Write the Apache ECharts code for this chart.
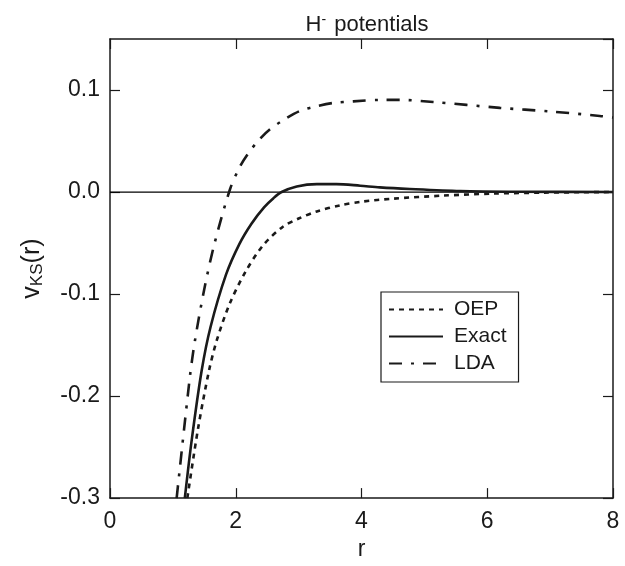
<!DOCTYPE html>
<html>
<head>
<meta charset="utf-8">
<script src="https://cdn.jsdelivr.net/npm/echarts@6/dist/echarts.min.js"></script>
<style>
html,body{margin:0;padding:0;background:#fff;}
#chart{width:625px;height:566px;}
</style>
</head>
<body>
<div id="chart"></div>
<script>
// tick values
const xTicks = [0, 2, 4, 6, 8];
const yTicks = [-0.3, -0.2, -0.1, 0.0, 0.1];

// OEP (dotted)
const oepX = [1.23, 1.40, 1.575, 1.70, 1.90, 2.147, 2.437, 2.75, 3.00, 3.29, 3.66, 4.00, 4.50, 5.30, 6.10, 6.90, 7.50, 8.00];
const oepY = [-0.300, -0.232, -0.175, -0.145, -0.110, -0.079, -0.052, -0.034, -0.026, -0.019, -0.013, -0.0095, -0.0065, -0.0035, -0.0015, -0.0006, -0.0002, 0.0];

// Exact (solid)
const exactX = [1.19, 1.30, 1.458, 1.60, 1.845, 2.057, 2.25, 2.45, 2.60, 2.73, 2.97, 3.29, 3.60, 3.98, 4.29, 4.77, 5.57, 6.50, 8.00];
const exactY = [-0.300, -0.243, -0.175, -0.132, -0.081, -0.051, -0.031, -0.015, -0.006, 0.0, 0.0055, 0.0078, 0.0078, 0.0062, 0.0046, 0.0030, 0.0010, 0.0003, 0.0];

// LDA (dash-dot)
const ldaX = [1.06, 1.27, 1.35, 1.50, 1.66, 1.91, 2.07, 2.20, 2.36, 2.545, 2.78, 3.02, 3.29, 3.55, 3.87, 4.30, 4.61, 5.14, 6.20, 7.00, 7.79, 8.00];
const ldaY = [-0.300, -0.1815, -0.146, -0.095, -0.051, 0.003, 0.0253, 0.038, 0.0505, 0.0615, 0.0714, 0.0794, 0.0841, 0.0873, 0.0889, 0.0903, 0.0903, 0.0883, 0.0825, 0.079, 0.0746, 0.073];

const zeroX = [0, 8];
const zeroY = [0, 0];

const pair = (xs, ys) => xs.map((x, i) => [x, ys[i]]);

const FONT = 'Liberation Sans, Arial, Helvetica, sans-serif';
const INK = '#1a1a1a';

const chart = echarts.init(document.getElementById('chart'), null, {renderer: 'canvas'});

const axisCommon = () => ({
  axisLine: {show: true, onZero: false, lineStyle: {color: INK, width: 1.5}},
  axisTick: {show: true, inside: true, length: 10, lineStyle: {color: INK, width: 1.2}},
  splitLine: {show: false}
});

chart.setOption({
  backgroundColor: '#fff',
  animation: false,
  title: {
    text: 'H{sup|-} potentials',
    left: 362,
    textAlign: 'center',
    top: 8,
    textStyle: {
      fontFamily: FONT, fontSize: 22, fontWeight: 'normal', color: INK,
      rich: {sup: {fontFamily: FONT, fontSize: 14, verticalAlign: 'top', padding: [0, 2, 10, 0], color: INK}}
    }
  },
  grid: {left: 110, right: 12, top: 39, bottom: 55, containLabel: false},
  legend: {
    orient: 'vertical',
    left: 381, top: 292,
    padding: [7, 12, 8, 7],
    itemWidth: 54, itemHeight: 14, itemGap: 6,
    borderColor: INK, borderWidth: 1.2,
    itemStyle: {opacity: 0},
    data: ['OEP', 'Exact', 'LDA'],
    textStyle: {fontFamily: FONT, fontSize: 21, color: INK, padding: [0, 0, 0, 6]}
  },
  xAxis: [
    Object.assign(axisCommon(), {
      type: 'value', min: 0, max: 8, interval: 2, position: 'bottom',
      name: 'r', nameLocation: 'middle', nameGap: 38,
      nameTextStyle: {fontFamily: FONT, fontSize: 23, color: INK},
      axisLabel: {fontFamily: FONT, fontSize: 23, color: INK, margin: 12,
        formatter: v => xTicks.includes(v) ? String(v) : ''}
    }),
    Object.assign(axisCommon(), {
      type: 'value', min: 0, max: 8, interval: 2, position: 'top',
      axisLabel: {show: false}
    })
  ],
  yAxis: [
    Object.assign(axisCommon(), {
      type: 'value', min: -0.3, max: 0.15, interval: 0.1, position: 'left',
      name: 'v{sub|KS}(r)', nameLocation: 'middle', nameGap: 64,
      nameTextStyle: {fontFamily: FONT, fontSize: 25, color: INK,
        rich: {sub: {fontFamily: FONT, fontSize: 17, color: INK, verticalAlign: 'bottom', padding: [10, 0, 0, 0]}}},
      axisLabel: {fontFamily: FONT, fontSize: 23, color: INK, margin: 10, showMaxLabel: false,
        formatter: v => {
          const r = Math.round(v * 10) / 10;
          return yTicks.some(t => Math.abs(t - r) < 1e-9) && Math.abs(v - r) < 1e-9 ? r.toFixed(1) : '';
        }}
    }),
    Object.assign(axisCommon(), {
      type: 'value', min: -0.3, max: 0.15, interval: 0.1, position: 'right',
      axisLabel: {show: false}
    })
  ],
  series: [
    {
      name: 'zero', type: 'line', data: pair(zeroX, zeroY), symbol: 'none',
      lineStyle: {color: '#000', width: 1.2}, silent: true, z: 1
    },
    {
      name: 'OEP', type: 'line', data: pair(oepX, oepY), symbol: 'none',
      smooth: 0.3, color: INK,
      lineStyle: {color: INK, width: 2.6, type: [5, 5]}
    },
    {
      name: 'Exact', type: 'line', data: pair(exactX, exactY), symbol: 'none',
      smooth: 0.3, color: INK,
      lineStyle: {color: INK, width: 2.6, type: 'solid'}
    },
    {
      name: 'LDA', type: 'line', data: pair(ldaX, ldaY), symbol: 'none',
      smooth: 0.3, color: INK,
      lineStyle: {color: INK, width: 2.6, type: [13, 9, 3, 9]}
    }
  ]
});
</script>
</body>
</html>
